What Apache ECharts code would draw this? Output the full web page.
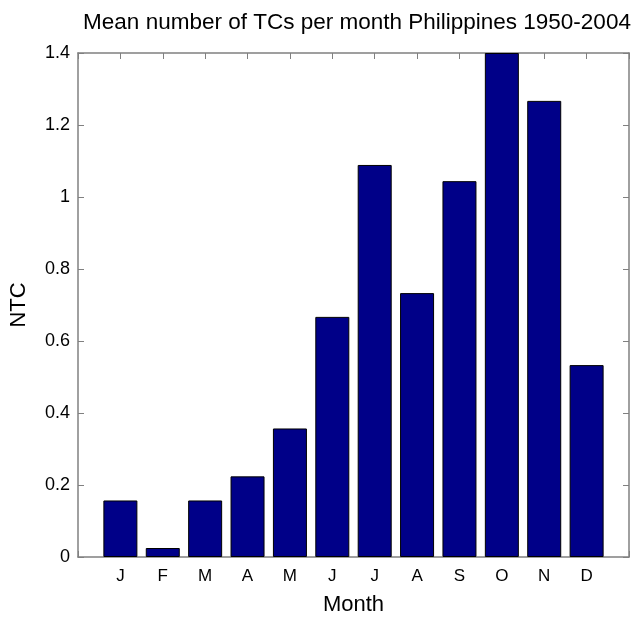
<!DOCTYPE html>
<html lang="en">
<head>
    <meta charset="UTF-8">
    <title>Mean number of TCs per month</title>
    <script src="https://cdn.jsdelivr.net/npm/echarts@6.0.0/dist/echarts.min.js"></script>
    <style>
        html, body { margin: 0; padding: 0; background: #fff; }
    </style>
</head>
<body>
    <div id="chart" style="width: 640px; height: 621px;"></div>
    <script>
        const months = ['J', 'F', 'M', 'A', 'M', 'J', 'J', 'A', 'S', 'O', 'N', 'D'];
        const ntc = [0.157, 0.025, 0.157, 0.224, 0.357, 0.667, 1.089, 0.733, 1.044, 1.4, 1.267, 0.533];
        const yTicks = [0, 0.2, 0.4, 0.6, 0.8, 1, 1.2, 1.4];

        const myChart = echarts.init(document.getElementById('chart'));
        const font = 'Liberation Sans, Arial, sans-serif';
        const boxColor = '#808080';

        // bars sit at x = 1..12 on a 0..13 axis, like matlab's bar()
        const barData = ntc.map((v, i) => [i + 1, v]);

        const boxLine = { show: true, onZero: false, lineStyle: { color: boxColor, width: 1.5 } };
        const boxTick = { show: true, inside: true, length: 6, lineStyle: { color: boxColor } };

        const option = {
            animation: false,
            title: {
                text: 'Mean number of TCs per month Philippines 1950-2004',
                left: 352,
                textAlign: 'center',
                top: 6,
                textStyle: { fontFamily: font, fontSize: 22.5, fontWeight: 'normal', color: '#000' }
            },
            grid: { left: 78, right: 11, top: 53, bottom: 61 },
            xAxis: [{
                type: 'value',
                min: 0,
                max: 13,
                interval: 1,
                name: 'Month',
                nameLocation: 'middle',
                nameGap: 37,
                nameTextStyle: { fontFamily: font, fontSize: 22, color: '#000' },
                axisLine: boxLine,
                axisTick: boxTick,
                axisLabel: {
                    fontFamily: font, fontSize: 17, color: '#000', margin: 11,
                    formatter: v => (v >= 1 && v <= 12) ? months[v - 1] : ''
                },
                splitLine: { show: false }
            }, {
                type: 'value',
                position: 'top',
                min: 0,
                max: 13,
                interval: 1,
                axisLine: boxLine,
                axisTick: boxTick,
                axisLabel: { show: false },
                splitLine: { show: false }
            }],
            yAxis: [{
                type: 'value',
                min: 0,
                max: 1.4,
                interval: 0.2,
                name: 'NTC',
                nameLocation: 'middle',
                nameGap: 48,
                nameRotate: 90,
                nameTextStyle: { fontFamily: font, fontSize: 22, color: '#000' },
                axisLine: boxLine,
                axisTick: boxTick,
                axisLabel: {
                    fontFamily: font, fontSize: 18, color: '#000', margin: 8,
                    formatter: v => {
                        const t = yTicks.find(x => Math.abs(x - v) < 1e-6);
                        return t === undefined ? '' : String(t);
                    }
                },
                splitLine: { show: false }
            }, {
                type: 'value',
                position: 'right',
                min: 0,
                max: 1.4,
                interval: 0.2,
                axisLine: boxLine,
                axisTick: boxTick,
                axisLabel: { show: false },
                splitLine: { show: false }
            }],
            series: [{
                type: 'bar',
                data: barData,
                barWidth: 34,
                itemStyle: { color: '#000088', borderColor: '#000', borderWidth: 1 }
            }]
        };

        myChart.setOption(option);
    </script>
</body>
</html>
